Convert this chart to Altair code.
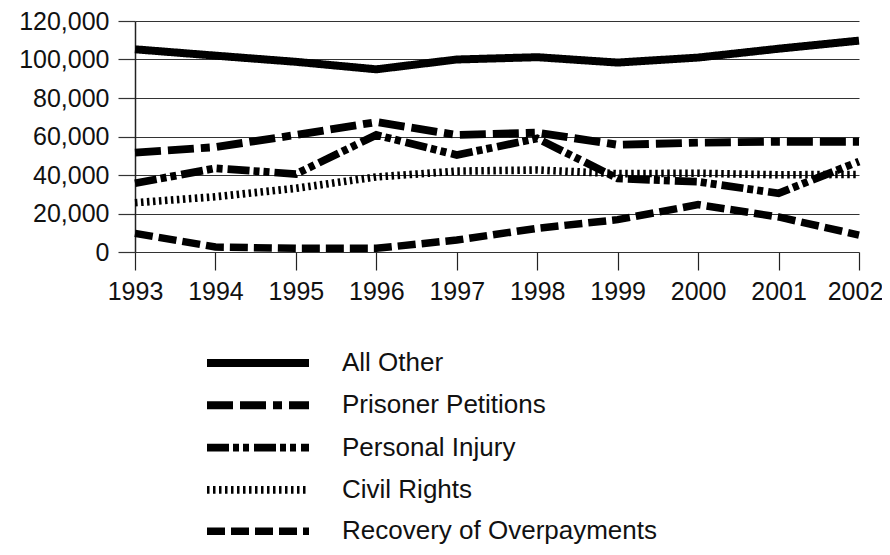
import altair as alt
import pandas as pd

years = [1993, 1994, 1995, 1996, 1997, 1998, 1999, 2000, 2001, 2002]
series = ["All Other", "Prisoner Petitions", "Personal Injury", "Civil Rights", "Recovery of Overpayments"]

all_other = [105300, 102000, 98800, 94900, 100000, 101200, 98400, 101000, 105600, 109800]
prisoner = [51600, 54500, 60800, 67500, 60800, 62000, 55700, 56800, 57300, 57300]
personal = [35700, 43500, 40500, 60800, 50400, 59000, 38200, 36500, 30500, 47000]
civil = [25600, 28700, 33100, 39000, 42000, 42600, 40700, 40900, 40100, 40300]
recovery = [9700, 2600, 1900, 1900, 6200, 12300, 16800, 24600, 18200, 8800]

dashes = [[1, 0], [26, 7, 26, 7, 9, 7], [22, 4, 6, 4, 6, 5], [2.5, 3.5], [18, 6]]
widths = [8, 7.5, 7.5, 9, 7.5]

values = [all_other, prisoner, personal, civil, recovery]
rows = []
for name, vals in zip(series, values):
    for yr, v in zip(years, vals):
        rows.append({"Year": yr, "Cases": v, "Series": name})
df = pd.DataFrame(rows)

FONT = "Liberation Sans"

chart = alt.Chart(df).mark_line(
    color="black", strokeCap="butt", strokeJoin="miter"
).encode(
    x=alt.X("Year:Q",
            scale=alt.Scale(domain=[1993, 2002], nice=False, zero=False),
            axis=alt.Axis(values=years, format="d", title=None, grid=False,
                          domain=False, ticks=True, tickSize=18, tickColor="#222",
                          tickWidth=1.2, labelPadding=9, labelFontSize=25,
                          labelFont=FONT, labelColor="#111", labelFlush=False,
                          labelOffset={"condition": {"test": "datum.value == 2002", "value": -4},
                                       "value": 0})),
    y=alt.Y("Cases:Q",
            scale=alt.Scale(domain=[0, 120000], nice=False),
            axis=alt.Axis(values=[0, 20000, 40000, 60000, 80000, 100000, 120000],
                          format=",.0f", title=None, grid=True, gridColor="#333",
                          gridWidth=1.2, gridOpacity=1, domain=True,
                          domainColor="#222", domainWidth=1.5, ticks=True,
                          tickSize=17, tickColor="#333", tickWidth=1.2,
                          labelPadding=9, labelFontSize=25, labelFont=FONT,
                          labelColor="#111")),
    strokeDash=alt.StrokeDash("Series:N",
                              scale=alt.Scale(domain=series, range=dashes),
                              legend=alt.Legend(
                                  title=None, orient="none", legendX=110, legendY=329,
                                  symbolType="M-10.2,0H10.2", symbolSize=100,
                                  symbolStrokeWidth=7.5, symbolStrokeColor="black",
                                  symbolFillColor="black",
                                  labelFontSize=26, labelFont=FONT, labelColor="#111",
                                  labelOffset=71, rowPadding=10.3, labelLimit=500)),
    strokeWidth=alt.StrokeWidth("Series:N",
                                scale=alt.Scale(domain=series, range=widths),
                                legend=None),
    detail="Series:N",
).properties(
    width=724,
    height=231,
    autosize=alt.AutoSizeParams(type="none"),
    padding={"left": 127, "top": 13, "right": 23, "bottom": 295},
).configure_view(stroke=None)

chart.save("out.html", embed_options={"renderer": "svg", "actions": False})
